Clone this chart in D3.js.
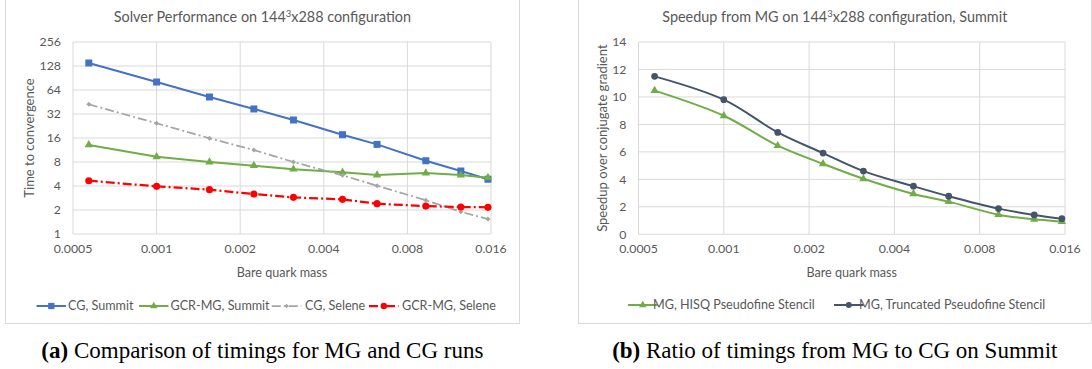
<!DOCTYPE html>
<html>
<head>
<meta charset="utf-8">
<script src="https://cdn.jsdelivr.net/npm/d3@7"></script>
<style>
  body { margin: 0; background: #fff; }
  text { font-family: Lato, "Open Sans", sans-serif; }
</style>
</head>
<body>
<svg id="chart" width="1092" height="369"></svg>
<script>
// bare quark masses (shared by both panels)
const masses = [0.00057, 0.001, 0.00155, 0.00224, 0.00311, 0.00467, 0.00622, 0.00932, 0.01246, 0.0156];
const xTicks = [0.0005, 0.001, 0.002, 0.004, 0.008, 0.016];

// panel (a): time to convergence
const cgSummit    = [139.6, 80.6, 52.3, 37.0, 26.9, 17.6, 13.3, 8.3, 6.17, 4.86];
const gcrSummit   = [13.1, 9.3, 8.0, 7.2, 6.5, 5.94, 5.5, 5.82, 5.5, 5.09];
const cgSelene    = [42.3, 24.5, 15.9, 11.3, 8.0, 5.45, 4.03, 2.65, 1.9, 1.54];
const gcrSelene   = [4.66, 3.96, 3.6, 3.17, 2.88, 2.72, 2.4, 2.24, 2.18, 2.16];
const yTicksA = [1, 2, 4, 8, 16, 32, 64, 128, 256];

// panel (b): speedup over CG
const hisqSpeedup = [10.46, 8.63, 6.45, 5.13, 4.04, 2.94, 2.38, 1.43, 1.09, 0.92];
const truncSpeedup = [11.5, 9.8, 7.42, 5.91, 4.6, 3.5, 2.77, 1.87, 1.41, 1.14];
const yTicksB = [0, 2, 4, 6, 8, 10, 12, 14];

const svg = d3.select("#chart");
const txt = "#595959", grid = "#d9d9d9";

function axisTitle(g, x, y, s, rot) {
  g.append("text").attr("transform", `translate(${x},${y})` + (rot ? " rotate(-90)" : ""))
    .attr("text-anchor", "middle").attr("dy", "0.35em")
    .attr("fill", txt).style("font-size", rot ? "13px" : "12.6px").text(s);
}

function panel(o) {
  const g = svg.append("g");
  // chart frame
  g.append("rect").attr("x", o.frame[0]).attr("y", -2)
    .attr("width", o.frame[1] - o.frame[0]).attr("height", o.frame[2] + 2)
    .attr("fill", "none").attr("stroke", grid).attr("stroke-width", 1);

  const x = o.x, y = o.y;
  const [x0, x1] = x.range(), [y0, y1] = y.range();

  // gridlines
  g.append("g").selectAll("line").data(xTicks).join("line")
    .attr("x1", d => x(d)).attr("x2", d => x(d)).attr("y1", y0).attr("y2", y1)
    .attr("stroke", grid);
  g.append("g").selectAll("line").data(o.yTicks).join("line")
    .attr("x1", x0).attr("x2", x1).attr("y1", d => y(d)).attr("y2", d => y(d))
    .attr("stroke", grid);

  // tick labels
  g.append("g").selectAll("text").data(xTicks).join("text")
    .attr("x", d => x(d)).attr("y", y0 + 18.5).attr("text-anchor", "middle")
    .attr("fill", txt).style("font-size", "12.3px").text(d => d);
  g.append("g").selectAll("text").data(o.yTicks).join("text")
    .attr("x", x0 - 12).attr("y", d => y(d)).attr("dy", "0.35em").attr("text-anchor", "end")
    .attr("fill", txt).style("font-size", "12.3px").text(d => d);

  // title with superscript
  const t = g.append("text").attr("x", o.titleX).attr("y", 22).attr("text-anchor", "middle")
    .attr("fill", txt).style("font-size", "14.4px");
  t.append("tspan").text(o.title[0]);
  t.append("tspan").attr("dy", -5).style("font-size", "9.5px").text("3");
  t.append("tspan").attr("dy", 5).text(o.title[1]);

  axisTitle(g, (x0 + x1) / 2, 272.5, "Bare quark mass");
  axisTitle(g, o.yLabelX, (y0 + y1) / 2, o.yLabel, true);

  // series
  o.series.forEach(s => {
    const line = d3.line().x((d, i) => x(masses[i])).y(d => y(d)).curve(o.curve);
    g.append("path").attr("d", line(s.values)).attr("fill", "none")
      .attr("stroke", s.color).attr("stroke-width", s.width)
      .attr("stroke-dasharray", s.dash || null);
    g.append("g").selectAll("path").data(s.values).join("path")
      .attr("transform", (d, i) => `translate(${x(masses[i])},${y(d)})`)
      .attr("d", d3.symbol(s.symbol, s.size)).attr("fill", s.color);

    // legend entry
    const lg = g.append("g").attr("transform", `translate(${s.legend[0]},${o.legendY})`);
    lg.append("line").attr("x1", 0).attr("x2", 29.5)
      .attr("stroke", s.color).attr("stroke-width", s.width).attr("stroke-dasharray", s.dash || null);
    lg.append("path").attr("transform", "translate(14.8,0)")
      .attr("d", d3.symbol(s.symbol, s.size * 0.8)).attr("fill", s.color);
    lg.append("text").attr("x", s.legend[1] - s.legend[0]).attr("dy", "0.35em")
      .attr("fill", txt).style("font-size", "12.6px").text(s.name);
  });

  // caption
  const c = svg.append("text").attr("x", o.titleX).attr("y", 357.5).attr("text-anchor", "middle")
    .style("font-family", "'Liberation Serif', 'Times New Roman', serif").style("font-size", "23px")
    .attr("fill", "#000");
  c.append("tspan").style("font-weight", "bold").text(o.caption[0]);
  c.append("tspan").text(o.caption[1]);
}

panel({
  frame: [5.5, 519.5, 323.5],
  x: d3.scaleLog().base(2).domain([0.0005, 0.016]).range([73, 491]),
  y: d3.scaleLog().base(2).domain([1, 256]).range([234, 42]),
  yTicks: yTicksA,
  title: ["Solver Performance  on 144", "x288 configuration"],
  titleX: 262.4,
  yLabel: "Time to convergence", yLabelX: 29.5,
  curve: d3.curveLinear,
  legendY: 306,
  series: [
    {name: "CG, Summit", values: cgSummit, color: "#4472c4", width: 2, symbol: d3.symbolSquare, size: 49, legend: [36.5, 68]},
    {name: "GCR-MG, Summit", values: gcrSummit, color: "#70ad47", width: 2, symbol: d3.symbolTriangle, size: 30, legend: [139, 170.5]},
    {name: "CG, Selene", values: cgSelene, color: "#a5a5a5", width: 1.75, dash: "9,3,2,3", symbol: d3.symbolDiamond2, size: 16, legend: [271.8, 305]},
    {name: "GCR-MG, Selene", values: gcrSelene, color: "#ff0000", width: 2.25, dash: "9,3,2,3", symbol: d3.symbolCircle, size: 40, legend: [369, 402]}
  ],
  caption: ["(a)", " Comparison of timings for MG and CG runs"]
});

panel({
  frame: [578.5, 1091.5, 323.5],
  x: d3.scaleLog().base(2).domain([0.0005, 0.016]).range([638.5, 1065]),
  y: d3.scaleLinear().domain([0, 14]).range([234.3, 42]),
  yTicks: yTicksB,
  title: ["Speedup  from MG on 144", "x288 configuration, Summit"],
  titleX: 834.8,
  yLabel: "Speedup over conjugate gradient", yLabelX: 602.6,
  curve: d3.curveCatmullRom.alpha(0.5),
  legendY: 305,
  series: [
    {name: "MG, HISQ Pseudofine Stencil", values: hisqSpeedup, color: "#70ad47", width: 2, symbol: d3.symbolTriangle, size: 30, legend: [628, 653]},
    {name: "MG, Truncated Pseudofine Stencil", values: truncSpeedup, color: "#44546a", width: 2, symbol: d3.symbolCircle, size: 36, legend: [834, 859]}
  ],
  caption: ["(b)", " Ratio of timings from MG to CG on Summit"]
});
</script>
</body>
</html>
